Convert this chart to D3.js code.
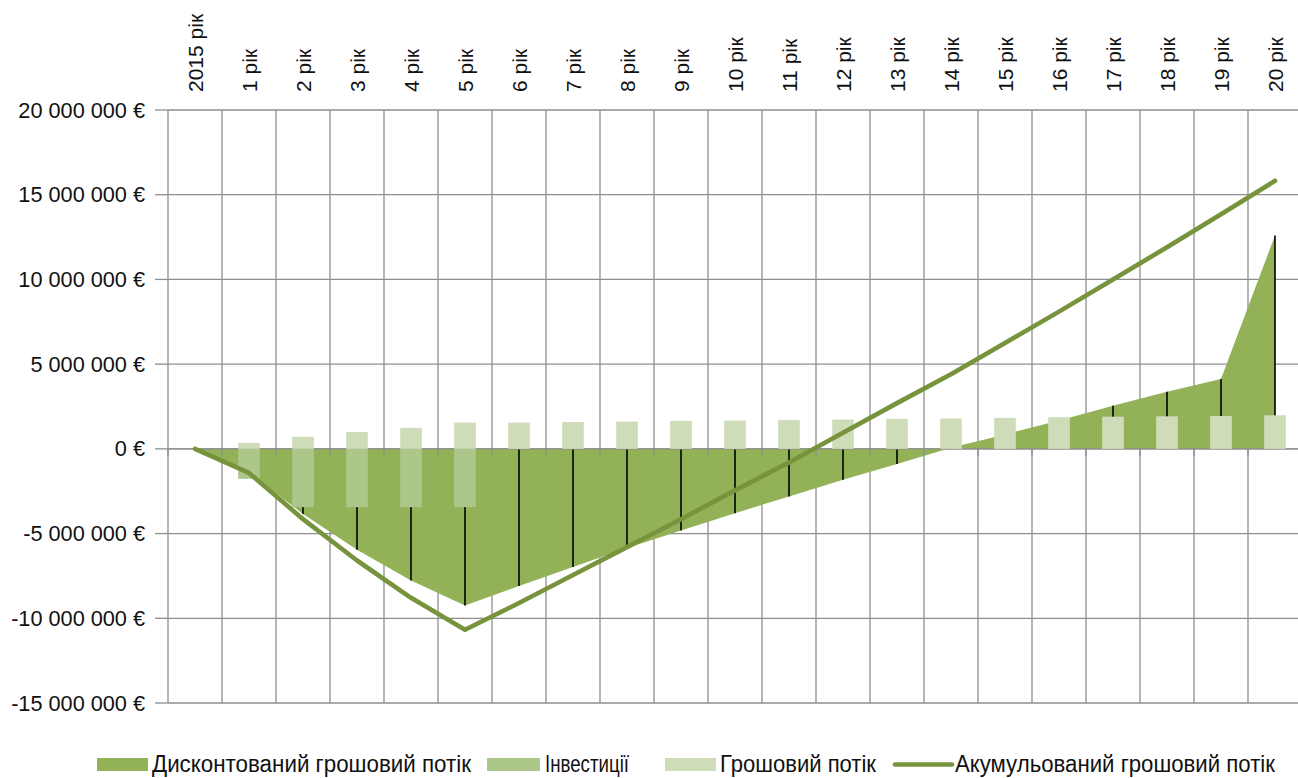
<!DOCTYPE html>
<html>
<head>
<meta charset="utf-8">
<script src="https://cdn.jsdelivr.net/npm/d3@7"></script>
<style>
  html, body { margin: 0; padding: 0; background: #fff; }
  svg { display: block; font-family: "Liberation Sans", Arial, sans-serif; }
</style>
</head>
<body>
<svg id="chart" width="1298" height="778"></svg>
<script>
// Categories along the horizontal axis
const categories = ["2015 рік", "1 рік", "2 рік", "3 рік", "4 рік", "5 рік", "6 рік", "7 рік",
  "8 рік", "9 рік", "10 рік", "11 рік", "12 рік", "13 рік", "14 рік", "15 рік", "16 рік",
  "17 рік", "18 рік", "19 рік", "20 рік"];

// Discounted cash flow (area), EUR
const discountedFlow = [0, -1400000, -3840000, -5960000, -7770000, -9250000, -8090000, -6980000,
  -5850000, -4820000, -3800000, -2810000, -1830000, -890000, 70000, 850000, 1680000,
  2550000, 3370000, 4130000, 12600000];

// Investments (bars), EUR
const investments = [0, -1770000, -3440000, -3440000, -3440000, -3440000, 0, 0, 0, 0, 0, 0, 0,
  0, 0, 0, 0, 0, 0, 0, 0];

// Cash flow (bars), EUR
const cashFlow = [0, 350000, 710000, 1000000, 1240000, 1550000, 1550000, 1580000, 1610000,
  1650000, 1670000, 1710000, 1730000, 1770000, 1790000, 1830000, 1870000, 1900000, 1920000,
  1940000, 1980000];

// Accumulated cash flow (line), EUR
const accumulatedFlow = [0, -1420000, -4150000, -6590000, -8790000, -10680000, -9100000,
  -7450000, -5800000, -4150000, -2450000, -800000, 950000, 2700000, 4400000, 6250000,
  8100000, 10000000, 11900000, 13850000, 15820000];

// Value axis ticks
const yTicks = [20000000, 15000000, 10000000, 5000000, 0, -5000000, -10000000, -15000000];

const legendItems = [
  { label: "Дисконтований грошовий потік", kind: "rect", key: "area" },
  { label: "Інвестиції", kind: "rect", key: "inv" },
  { label: "Грошовий потік", kind: "rect", key: "cash" },
  { label: "Акумульований грошовий потік", kind: "line", key: "acc" }
];

const colors = {
  area: "#93b156",
  inv: "#adc78b",
  cash: "#cfdcb9",
  acc: "#77933c",
  grid: "#8e8e8e",
  drop: "#000000"
};

const svg = d3.select("#chart");
const plot = { left: 168, right: 1302, top: 110, bottom: 703 };

const x = d3.scaleBand()
  .domain(categories)
  .range([plot.left, plot.right])
  .paddingInner(0.6)
  .paddingOuter(0.3);

const y = d3.scaleLinear()
  .domain([-15000000, 20000000])
  .range([plot.bottom, plot.top]);

const cx = c => x(c) + x.bandwidth() / 2;
const boundary = i => plot.left + i * x.step();

const fmt = v => {
  const s = d3.format(",")(Math.abs(v)).replace(/,/g, " ");
  return (v < 0 ? "-" : "") + s + " €";
};

// Grid
const grid = svg.append("g").attr("stroke", colors.grid).attr("stroke-width", 1.3);
grid.selectAll("line.h").data(yTicks).join("line")
  .attr("x1", plot.left).attr("x2", plot.right)
  .attr("y1", d => y(d)).attr("y2", d => y(d));
grid.selectAll("line.v").data(d3.range(categories.length + 1)).join("line")
  .attr("x1", boundary).attr("x2", boundary)
  .attr("y1", plot.top).attr("y2", plot.bottom);

// Discounted cash flow area
const area = d3.area()
  .x((d, i) => cx(categories[i]))
  .y0(y(0))
  .y1(d => y(d));
svg.append("path")
  .datum(discountedFlow)
  .attr("fill", colors.area)
  .attr("d", area);

// Drop lines from the area down to the zero line
svg.append("g").selectAll("line").data(discountedFlow).join("line")
  .attr("x1", (d, i) => cx(categories[i]))
  .attr("x2", (d, i) => cx(categories[i]))
  .attr("y1", y(0))
  .attr("y2", d => y(d))
  .attr("stroke", colors.drop)
  .attr("stroke-width", 1.6);

// Zero line and its ticks
svg.append("line")
  .attr("x1", plot.left).attr("x2", plot.right)
  .attr("y1", y(0)).attr("y2", y(0))
  .attr("stroke", colors.grid).attr("stroke-width", 1.3);
svg.append("g").selectAll("line").data(d3.range(categories.length + 1)).join("line")
  .attr("x1", boundary).attr("x2", boundary)
  .attr("y1", y(0)).attr("y2", y(0) + 7)
  .attr("stroke", colors.grid).attr("stroke-width", 1.3);

// Investment bars
svg.append("g").selectAll("rect").data(investments).join("rect")
  .attr("x", (d, i) => x(categories[i]))
  .attr("width", x.bandwidth())
  .attr("y", d => Math.min(y(d), y(0)))
  .attr("height", d => Math.abs(y(d) - y(0)))
  .attr("fill", colors.inv);

// Cash flow bars
svg.append("g").selectAll("rect").data(cashFlow).join("rect")
  .attr("x", (d, i) => x(categories[i]))
  .attr("width", x.bandwidth())
  .attr("y", d => Math.min(y(d), y(0)))
  .attr("height", d => Math.abs(y(d) - y(0)))
  .attr("fill", colors.cash);

// Accumulated cash flow line
const line = d3.line()
  .x((d, i) => cx(categories[i]))
  .y(d => y(d));
svg.append("path")
  .datum(accumulatedFlow)
  .attr("fill", "none")
  .attr("stroke", colors.acc)
  .attr("stroke-width", 4.6)
  .attr("stroke-linecap", "round")
  .attr("stroke-linejoin", "round")
  .attr("d", line);

// Value axis
const yAxis = svg.append("g");
yAxis.selectAll("line").data(yTicks).join("line")
  .attr("x1", plot.left - 13).attr("x2", plot.left)
  .attr("y1", d => y(d)).attr("y2", d => y(d))
  .attr("stroke", colors.grid).attr("stroke-width", 1.3);
yAxis.selectAll("text").data(yTicks).join("text")
  .attr("x", 145)
  .attr("y", d => y(d))
  .attr("dy", "0.35em")
  .attr("text-anchor", "end")
  .attr("font-size", 21.7)
  .attr("fill", "#111")
  .text(fmt);

// Category labels along the top, rotated
svg.append("g").selectAll("text").data(categories).join("text")
  .attr("transform", c => `translate(${cx(c) + 1},92) rotate(-90)`)
  .attr("dy", "0.35em")
  .attr("text-anchor", "start")
  .attr("font-size", 21)
  .attr("fill", "#111")
  .text(c => c);

// Legend
const legendLayout = [
  { sx: 97, sw: 51, tx: 152, tw: 319 },
  { sx: 487, sw: 53, tx: 545, tw: 84 },
  { sx: 665, sw: 51, tx: 720, tw: 156 },
  { sx: 895, sw: 57, tx: 955, tw: 320 }
];
const legend = svg.append("g");
legendItems.forEach((item, i) => {
  const L = legendLayout[i];
  if (item.kind === "rect") {
    legend.append("rect")
      .attr("x", L.sx).attr("y", 758)
      .attr("width", L.sw).attr("height", 13)
      .attr("fill", colors[item.key]);
  } else {
    legend.append("line")
      .attr("x1", L.sx).attr("x2", L.sx + L.sw)
      .attr("y1", 764.5).attr("y2", 764.5)
      .attr("stroke", colors[item.key])
      .attr("stroke-width", 4.6)
      .attr("stroke-linecap", "round");
  }
  legend.append("text")
    .attr("x", L.tx).attr("y", 772)
    .attr("font-family", "'Liberation Sans Narrow', 'Arial Narrow', 'Liberation Sans', sans-serif")
    .attr("font-size", 23)
    .attr("fill", "#111")
    .attr("textLength", L.tw)
    .attr("lengthAdjust", "spacingAndGlyphs")
    .text(item.label);
});
</script>
</body>
</html>
